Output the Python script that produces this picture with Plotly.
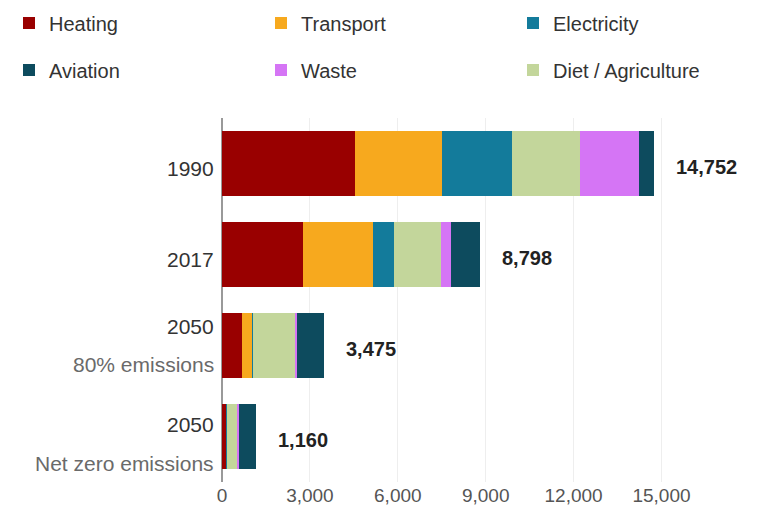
import plotly.graph_objects as go

categories = ["1990", "2017", "2050 80% emissions", "2050 Net zero emissions"]
year_labels = ["1990", "2017", "2050", "2050"]
sub_labels = ["", "", "80% emissions", "Net zero emissions"]
totals = [14752, 8798, 3475, 1160]

heating = [4555, 2760, 690, 140]
transport = [2969, 2380, 340, 20]
electricity = [2363, 745, 30, 10]
diet = [2315, 1600, 1430, 360]
waste = [2034, 320, 80, 40]
aviation = [516, 993, 905, 590]

x_ticks = [0, 3000, 6000, 9000, 12000, 15000]

series = [
    ("Heating", heating, "#990000", "legend", 1),
    ("Transport", transport, "#F7A91E", "legend", 2),
    ("Electricity", electricity, "#137B9B", "legend", 3),
    ("Diet / Agriculture", diet, "#C3D69B", "legend2", 3),
    ("Waste", waste, "#D575F5", "legend2", 2),
    ("Aviation", aviation, "#0D4B5E", "legend2", 1),
]

FONT = "Liberation Sans, Arial, Helvetica, sans-serif"

fig = go.Figure()
for name, vals, color, leg, rank in series:
    fig.add_trace(go.Bar(
        y=categories, x=vals, name=name, orientation="h",
        marker=dict(color=color, line=dict(width=0)),
        legend=leg, legendrank=rank,
    ))

# annotation positions on a category axis use the category serial number
annotations = []
year_shift = [-4.5, -5, 19.5, 12]
sub_shift = [0, 0, -19, -26.5]
for i, cat in enumerate(categories):
    annotations.append(dict(
        x=0, xref="paper", y=i, yref="y", text=year_labels[i],
        xanchor="right", yanchor="middle", xshift=-6, yshift=year_shift[i],
        showarrow=False, font=dict(size=21, color="#333333", family=FONT)))
    if sub_labels[i]:
        annotations.append(dict(
            x=0, xref="paper", y=i, yref="y", text=sub_labels[i],
            xanchor="right", yanchor="middle", xshift=-6, yshift=sub_shift[i],
            showarrow=False, font=dict(size=21, color="#6a6a6a", family=FONT)))
    annotations.append(dict(
        x=totals[i], xref="x", y=i, yref="y", text=f"<b>{totals[i]:,}</b>",
        xanchor="left", yanchor="middle", xshift=20, yshift=-3,
        showarrow=False, font=dict(size=20, color="#222222", family=FONT)))

W, H = 753, 509
plot_left, plot_right, plot_top, plot_bottom = 214, 753, 110, 474
pw = plot_right - plot_left
ph = plot_bottom - plot_top

legend_common = dict(
    orientation="h", xanchor="left", yanchor="middle",
    entrywidth=207, entrywidthmode="pixels",
    font=dict(size=20, color="#333333", family=FONT),
    bgcolor="rgba(0,0,0,0)", traceorder="normal", borderwidth=0,
    x=(1 - plot_left) / pw,
)

fig.update_layout(
    width=W, height=H,
    margin=dict(l=plot_left, r=W - plot_right, t=plot_top, b=H - plot_bottom,
                autoexpand=False),
    paper_bgcolor="white", plot_bgcolor="white",
    font=dict(family=FONT),
    barmode="stack", bargap=0.286,
    showlegend=True,
    legend=dict(legend_common, y=(plot_bottom - 15) / ph),
    legend2=dict(legend_common, y=(plot_bottom - 62) / ph),
    xaxis=dict(
        range=[0, pw / 0.0293], tickvals=x_ticks, tickformat=",d",
        showgrid=True, gridcolor="#eeeeee", gridwidth=1,
        zeroline=True, zerolinecolor="#999999", zerolinewidth=2,
        showline=False, ticks="",
        tickfont=dict(size=19, color="#555555", family=FONT),
    ),
    yaxis=dict(
        type="category", categoryorder="array", categoryarray=categories,
        autorange="reversed", showticklabels=False, showgrid=False,
        zeroline=False, showline=False, ticks="",
    ),
    annotations=annotations,
)

fig.write_html("out.html")
